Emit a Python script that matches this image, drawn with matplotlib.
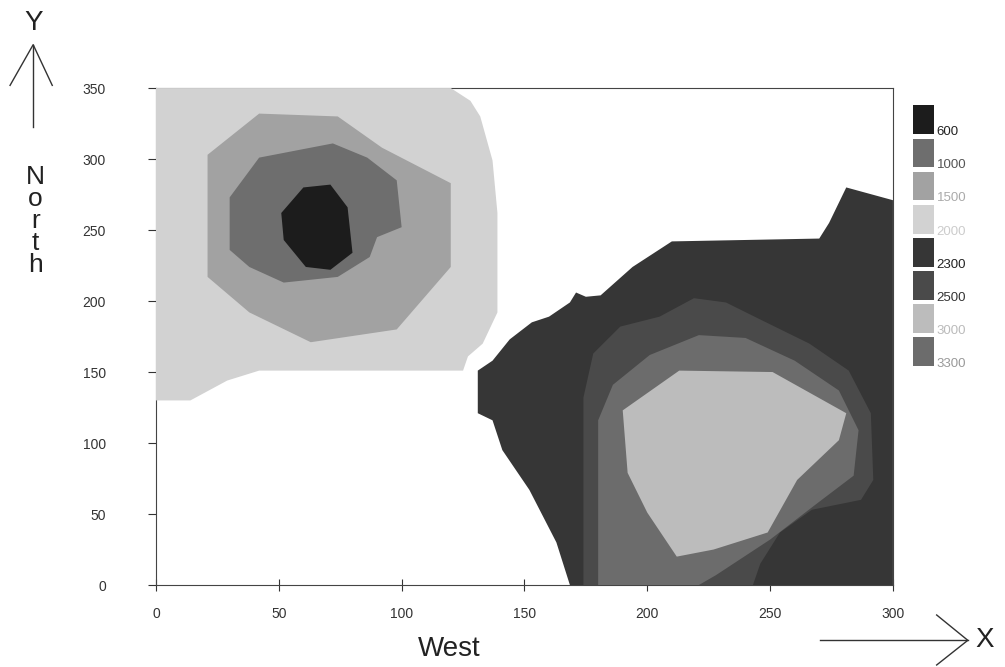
import matplotlib
matplotlib.use("Agg")
import matplotlib.pyplot as plt
from matplotlib.patches import Polygon, Rectangle
from matplotlib.lines import Line2D

plt.rcParams['font.family'] = ['Liberation Sans Narrow', 'Liberation Sans', 'DejaVu Sans']

# contour levels shown in the legend
levels = ['600', '1000', '1500', '2000', '2300', '2500', '3000', '3300']
level_colors = ['#1c1c1c', '#6e6e6e', '#a2a2a2', '#d2d2d2',
                '#363636', '#4a4a4a', '#bcbcbc', '#6c6c6c']
label_colors = ['#222222', '#555555', '#aaaaaa', '#cccccc',
                '#222222', '#333333', '#bbbbbb', '#999999']

# north-west anomaly (outer -> inner)
nw_2000 = [(0, 350), (120, 350), (128, 341), (132, 330), (137, 299), (139, 262),
           (139, 192), (133, 170), (127, 161), (125, 151), (42, 151), (29, 144),
           (14, 130), (0, 130)]
nw_1500 = [(21, 303), (42, 332), (74, 330), (92, 308), (120, 283), (120, 224),
           (98, 180), (63, 171), (38, 192), (21, 217)]
nw_1000 = [(30, 273), (42, 301), (72, 311), (86, 301), (98, 285), (100, 252),
           (90, 245), (87, 231), (74, 217), (52, 213), (38, 224), (30, 236)]
nw_600 = [(60, 280), (71, 282), (78, 266), (80, 234), (71, 222), (61, 224),
          (52, 243), (51, 262)]

# south-east anomaly (outer -> inner)
se_2300 = [(168.5, 0), (163, 30), (152, 67), (141, 95), (137, 116), (131, 121),
           (131, 151), (137, 158), (144, 173), (153, 185), (160, 189), (168.5, 199),
           (171, 206), (175, 203), (181, 204), (194, 224), (210, 242), (270, 244),
           (274, 255), (281, 280), (300, 271), (300, 0)]
se_2500 = [(174, 0), (174, 132), (178, 163), (189, 182), (205, 189), (219, 202),
           (232, 199), (246, 187), (266, 170), (282, 151), (291, 121), (292, 74),
           (287, 60), (267, 53), (254, 37), (246, 15), (243, 0)]
se_3300 = [(180, 0), (180, 116), (186, 141), (201, 162), (221, 176), (240, 174),
           (260, 158), (278, 137), (286, 109), (284, 77), (268, 56), (250, 32),
           (228, 7), (221, 0)]
se_3000 = [(213, 151), (251, 150), (281, 121), (278, 102), (261, 74), (249, 37),
           (227, 25), (212, 20), (200, 51), (192, 79), (190, 123)]

regions = [(nw_2000, '2000'), (nw_1500, '1500'), (nw_1000, '1000'), (nw_600, '600'),
           (se_2300, '2300'), (se_2500, '2500'), (se_3300, '3300'), (se_3000, '3000')]

fig = plt.figure(figsize=(10.05, 6.67), dpi=100)
ax = fig.add_axes([0.1552, 0.1229, 0.7333, 0.7451])

for pts, lev in regions:
    color = level_colors[levels.index(lev)]
    ax.add_patch(Polygon(pts, closed=True, facecolor=color, edgecolor='none', zorder=3))

ax.set_xlim(0, 300)
ax.set_ylim(0, 350)
ax.set_xticks([0, 50, 100, 150, 200, 250, 300])
ax.set_yticks([0, 50, 100, 150, 200, 250, 300, 350])
ax.tick_params(axis='y', direction='out', length=6, width=0.8, pad=30,
               labelsize=10, colors='#333333')
ax.tick_params(axis='x', direction='inout', length=8, width=0.8, pad=12,
               labelsize=10, colors='#333333')
for s in ax.spines.values():
    s.set_linewidth(0.8)
    s.set_color('#444444')

# legend boxes on the right
for i, (lev, col) in enumerate(zip(levels, level_colors)):
    top = 0.842 - i * 0.0497
    fig.patches.append(Rectangle((0.908, top - 0.043), 0.021, 0.043,
                                 transform=fig.transFigure, facecolor=col,
                                 edgecolor='none'))
    fig.text(0.932, top - 0.040, lev, fontsize=9.5, color=label_colors[i],
             ha='left', va='center')

# axis names with arrows
fig.text(0.447, 0.027, 'West', fontsize=20, ha='center', va='center', color='#222222')
fig.text(0.033, 0.965, 'Y', fontsize=20, ha='center', va='center', color='#222222')
for i, ch in enumerate('North'):
    fig.text(0.035, 0.735 - i * 0.033, ch, fontsize=19, ha='center', va='center',
             color='#222222')
fig.text(0.98, 0.04, 'X', fontsize=20, ha='center', va='center', color='#222222')

arrow_style = dict(color='#333333', linewidth=1.0, transform=fig.transFigure)
fig.lines.append(Line2D([0.033, 0.033], [0.81, 0.933], **arrow_style))
fig.lines.append(Line2D([0.010, 0.033, 0.052], [0.872, 0.933, 0.872], **arrow_style))
fig.lines.append(Line2D([0.816, 0.963], [0.04, 0.04], **arrow_style))
fig.lines.append(Line2D([0.932, 0.963, 0.932], [0.078, 0.04, 0.003], **arrow_style))

fig.savefig('out.png', dpi=100)
